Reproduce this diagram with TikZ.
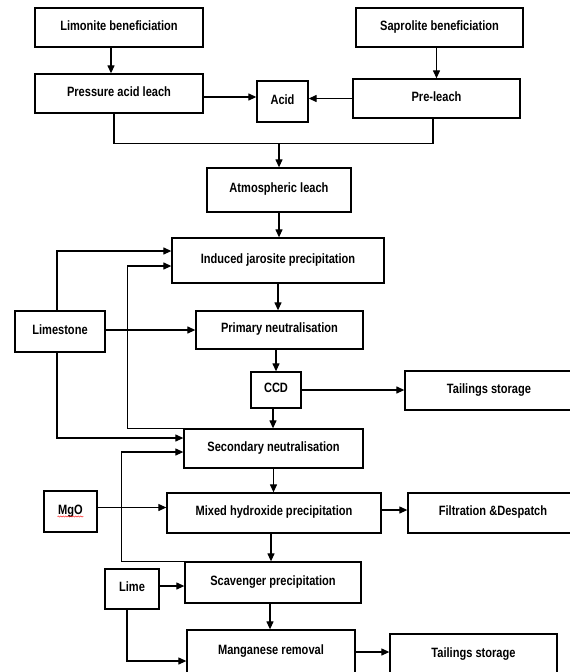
\documentclass[tikz,border=0pt]{standalone}
\usepackage{fontspec}
\setmainfont{Liberation Sans}[FakeStretch=0.82]
\usetikzlibrary{arrows.meta,decorations.pathmorphing}
\tikzset{
	stage/.style={draw, line width=1.3pt, inner sep=2pt, text height=10pt, text depth=5pt, font=\fontsize{13.5}{15}\selectfont\bfseries},
	flow/.style={line width=1.2pt, -{Triangle[length=8pt,width=7pt]}},
	pipe/.style={line width=1.2pt}
}
\begin{document}
\begin{tikzpicture}[x=1pt,y=-1pt]
	\useasboundingbox (0,0) rectangle (570,672);
	\clip (0,0) rectangle (570,672);
	\node[stage, minimum width=168pt, minimum height=39pt] (limben) at (119,27.5) {Limonite beneficiation};
	\node[stage, minimum width=167pt, minimum height=39pt] (sapben) at (439.5,27.5) {Saprolite beneficiation};
	\node[stage, minimum width=168pt, minimum height=39pt] (pal) at (119,93.5) {Pressure acid leach};
	\node[stage, minimum width=51pt, minimum height=41pt] (acid) at (282.5,101.5) {Acid};
	\node[stage, minimum width=167pt, minimum height=39pt] (prel) at (436.5,98.5) {Pre-leach};
	\node[stage, minimum width=144pt, minimum height=44pt] (atm) at (279,190) {Atmospheric leach};
	\node[stage, minimum width=212pt, minimum height=45pt] (ijp) at (278,260.5) {Induced jarosite precipitation};
	\node[stage, minimum width=90pt, minimum height=41pt] (limestone) at (60,331.5) {Limestone};
	\node[stage, minimum width=167pt, minimum height=38pt] (prim) at (279.5,330) {Primary neutralisation};
	\node[stage, minimum width=50pt, minimum height=36pt] (ccd) at (276,390) {CCD};
	\node[stage, minimum width=168pt, minimum height=39pt] (tail1) at (489,390.5) {Tailings storage};
	\node[stage, minimum width=179pt, minimum height=39pt] (sec) at (273.5,448.5) {Secondary neutralisation};
	\node[stage, minimum width=53pt, minimum height=41pt] (mgo) at (70.5,511.5) {MgO};
	\node[stage, minimum width=214pt, minimum height=40pt] (mhp) at (274,513) {Mixed hydroxide precipitation};
	\node[stage, minimum width=170pt, minimum height=40pt] (filt) at (493,513) {Filtration \&Despatch};
	\node[stage, minimum width=54pt, minimum height=40pt] (lime) at (132,589) {Lime};
	\node[stage, minimum width=176pt, minimum height=41pt] (scav) at (273,582.5) {Scavenger precipitation};
	\node[stage, minimum width=168pt, minimum height=44pt] (mnr) at (271,652) {Manganese removal};
	\node[stage, minimum width=167pt, minimum height=42pt] (tail2) at (473.5,655) {Tailings storage};
	\draw[red, line width=0.4pt, decorate, decoration={snake, amplitude=0.6pt, segment length=2.5pt}] ([xshift=-13pt,yshift=-5pt]mgo.center) -- ([xshift=13pt,yshift=-5pt]mgo.center);
	\draw[flow] ([xshift=-8pt]limben.south) -- ([xshift=-8pt]pal.north);
	\draw[flow] (sapben.south -| prel.north) -- (prel.north);
	\draw[flow] ([yshift=-3.5pt]pal.east) -- ([yshift=-3.5pt]pal.east -| acid.west);
	\draw[flow] (prel.west) -- (prel.west -| acid.east);
	\draw[pipe] ([xshift=-5pt]pal.south) -- ++(0,30) coordinate (join) -| ([xshift=-3.5pt]prel.south);
	\draw[flow] (join -| atm.north) -- (atm.north);
	\draw[flow] (atm.south) -- (atm.south |- ijp.north);
	\draw[flow] (ijp.south) -- (ijp.south |- prim.north);
	\draw[flow] ([xshift=-3pt]limestone.north) |- ([yshift=9.5pt]ijp.west);
	\draw[flow] (sec.north west) -- ++(-56,0) |- ([yshift=-5.5pt]ijp.west);
	\draw[flow] (limestone.east |- prim.west) -- (prim.west);
	\draw[flow] ([xshift=-3pt]limestone.south) |- ([yshift=10.5pt]sec.west);
	\draw[flow] (ccd.north |- prim.south) -- (ccd.north);
	\draw[flow] (ccd.east) -- (ccd.east -| tail1.west);
	\draw[flow] ([xshift=-3pt]ccd.south) -- ([xshift=-3pt]ccd.south |- sec.north);
	\draw[flow] (scav.north west) -- ++(-63,0) |- ([yshift=-3.5pt]sec.west);
	\draw[flow] (sec.south) -- (sec.south |- mhp.north);
	\draw[flow] ([yshift=4pt]mgo.east) -- ([yshift=4pt]mgo.east -| mhp.west);
	\draw[flow] ([yshift=3pt]mhp.east) -- ([yshift=3pt]mhp.east -| filt.west);
	\draw[flow] ([xshift=-3pt]mhp.south) -- ([xshift=-3pt]mhp.south |- scav.north);
	\draw[flow] ([yshift=3pt]lime.east) -- ([yshift=3pt]lime.east -| scav.west);
	\draw[flow] ([xshift=-5pt]lime.south) |- ([yshift=-9pt]mnr.west);
	\draw[flow] ([xshift=-3pt]scav.south) -- ([xshift=-3pt]scav.south |- mnr.north);
	\draw[flow] (mnr.east) -- (mnr.east -| tail2.west);
\end{tikzpicture}
\end{document}
